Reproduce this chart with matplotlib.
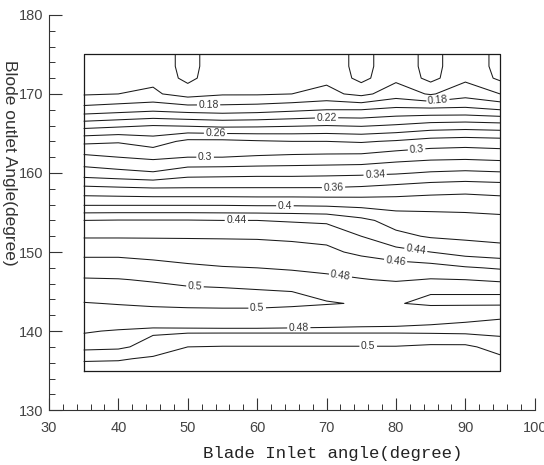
import numpy as np
import matplotlib
matplotlib.use("Agg")
import matplotlib.pyplot as plt
from matplotlib.ticker import MultipleLocator

# Blade inlet angle (x) and blade outlet angle (y) grid, degrees
INLET = [35, 40, 45, 50, 55, 60, 65, 70, 75, 80, 85, 90, 95]
OUTLET = [135, 136.5, 138, 140, 142, 143.5, 145, 146.5, 148, 150, 152, 154,
          156, 158, 160, 162, 164, 166, 168, 170, 172, 173.5, 175]

# Efficiency values (rows follow OUTLET, columns follow INLET)
EFF = [
    [0.510, 0.510, 0.512, 0.512, 0.512, 0.512, 0.512, 0.512, 0.512, 0.512, 0.512, 0.512, 0.512],  # 135
    [0.497, 0.498, 0.503, 0.508, 0.508, 0.508, 0.508, 0.508, 0.508, 0.508, 0.510, 0.510, 0.504],  # 136.5
    [0.474, 0.476, 0.488, 0.500, 0.501, 0.501, 0.501, 0.501, 0.501, 0.501, 0.504, 0.504, 0.492],  # 138
    [0.481, 0.479, 0.477, 0.477, 0.477, 0.477, 0.477, 0.477, 0.477, 0.477, 0.476, 0.475, 0.474],  # 140
    [0.490, 0.491, 0.492, 0.493, 0.494, 0.494, 0.492, 0.490, 0.488, 0.487, 0.486, 0.484, 0.482],  # 142
    [0.499, 0.501, 0.503, 0.504, 0.504, 0.504, 0.503, 0.501, 0.499, 0.499, 0.503, 0.503, 0.503],  # 143.5
    [0.510, 0.510, 0.508, 0.505, 0.504, 0.502, 0.500, 0.496, 0.492, 0.492, 0.499, 0.499, 0.499],  # 145
    [0.502, 0.501, 0.498, 0.494, 0.492, 0.490, 0.488, 0.485, 0.481, 0.478, 0.481, 0.480, 0.476],  # 146.5
    [0.488, 0.488, 0.486, 0.483, 0.481, 0.480, 0.478, 0.475, 0.472, 0.470, 0.468, 0.462, 0.458],  # 148
    [0.476, 0.476, 0.474, 0.472, 0.470, 0.468, 0.466, 0.464, 0.456, 0.447, 0.440, 0.432, 0.428],  # 150
    [0.458, 0.458, 0.458, 0.458, 0.458, 0.458, 0.457, 0.455, 0.440, 0.425, 0.418, 0.416, 0.414],  # 152
    [0.440, 0.441, 0.441, 0.441, 0.440, 0.440, 0.438, 0.436, 0.425, 0.412, 0.410, 0.408, 0.406],  # 154
    [0.398, 0.398, 0.398, 0.398, 0.398, 0.397, 0.397, 0.396, 0.394, 0.392, 0.392, 0.392, 0.390],  # 156
    [0.366, 0.364, 0.362, 0.362, 0.362, 0.362, 0.362, 0.362, 0.364, 0.368, 0.372, 0.374, 0.372],  # 158
    [0.330, 0.326, 0.322, 0.332, 0.333, 0.334, 0.334, 0.335, 0.336, 0.338, 0.342, 0.344, 0.342],  # 160
    [0.305, 0.300, 0.296, 0.300, 0.300, 0.302, 0.304, 0.305, 0.306, 0.312, 0.315, 0.316, 0.314],  # 162
    [0.275, 0.278, 0.270, 0.285, 0.285, 0.282, 0.280, 0.280, 0.278, 0.282, 0.288, 0.290, 0.288],  # 164
    [0.232, 0.236, 0.240, 0.238, 0.235, 0.236, 0.238, 0.240, 0.238, 0.242, 0.248, 0.250, 0.248],  # 166
    [0.188, 0.192, 0.196, 0.192, 0.190, 0.192, 0.196, 0.200, 0.200, 0.205, 0.205, 0.205, 0.200],  # 168
    [0.158, 0.160, 0.163, 0.152, 0.158, 0.158, 0.160, 0.165, 0.155, 0.170, 0.158, 0.172, 0.160],  # 170
    [0.155, 0.155, 0.156, 0.134, 0.156, 0.156, 0.157, 0.156, 0.134, 0.156, 0.134, 0.156, 0.136],  # 172
    [0.156, 0.156, 0.156, 0.131, 0.157, 0.157, 0.157, 0.156, 0.131, 0.156, 0.131, 0.157, 0.132],  # 173.5
    [0.156, 0.156, 0.156, 0.131, 0.157, 0.157, 0.157, 0.156, 0.131, 0.156, 0.131, 0.157, 0.132],  # 175
]

LEVELS = [0.14, 0.16, 0.18, 0.20, 0.22, 0.24, 0.26, 0.28, 0.30, 0.32,
          0.34, 0.36, 0.38, 0.40, 0.42, 0.44, 0.46, 0.48, 0.50]

# Where the contour labels sit on the reference (inlet, outlet)
LABEL_AT = [(53, 168.7), (86, 169.5), (70, 167), (54, 165), (52.5, 162),
            (83, 162.7), (77, 159.7), (71, 158.2), (64, 155.8), (57, 154),
            (83, 151), (80, 149.2), (72, 147), (51, 145), (60, 142.7),
            (66, 140.5), (76, 137.8)]

X_TICKS = [30, 40, 50, 60, 70, 80, 90, 100]
Y_TICKS = [130, 140, 150, 160, 170, 180]

narrow = ["Liberation Sans Narrow", "Liberation Sans", "DejaVu Sans"]
mono = ["Liberation Mono", "DejaVu Sans Mono"]

fig = plt.figure(figsize=(5.44, 4.65), dpi=100)
ax = fig.add_axes([0.090, 0.118, 0.893, 0.850])

x = np.array(INLET, dtype=float)
y = np.array(OUTLET, dtype=float)
z = np.array(EFF, dtype=float)

cs = ax.contour(x, y, z, levels=LEVELS, colors="#1a1a1a", linewidths=0.75)
labels = ax.clabel(cs, manual=LABEL_AT, inline=True, inline_spacing=2,
                   fontsize=7.5, fmt=lambda v: f"{v:g}", colors="#333333")
for t in labels:
    t.set_family(narrow)

# boundary of the computed domain
ax.plot([x[0], x[-1], x[-1], x[0], x[0]], [y[0], y[0], y[-1], y[-1], y[0]],
        color="#1a1a1a", lw=0.9)

ax.set_xlim(30, 100)
ax.set_ylim(130, 180)
ax.set_xticks(X_TICKS)
ax.set_yticks(Y_TICKS)
ax.xaxis.set_minor_locator(MultipleLocator(2))
ax.yaxis.set_minor_locator(MultipleLocator(2))
ax.tick_params(which="major", direction="in", length=9, width=0.8, color="#333333",
               labelsize=10.5, labelcolor="#444444")
ax.tick_params(axis="x", which="major", pad=8)
ax.tick_params(axis="y", which="major", pad=4)
ax.tick_params(which="minor", direction="in", length=4, width=0.7, color="#333333")
for lab in ax.get_xticklabels() + ax.get_yticklabels():
    lab.set_family(narrow)

for side in ("top", "right"):
    ax.spines[side].set_visible(False)
for side in ("left", "bottom"):
    ax.spines[side].set_color("#333333")
    ax.spines[side].set_linewidth(0.8)

ax.set_xlabel("Blade Inlet angle(degree)", family=mono, fontsize=12.5, color="#222222")
ax.xaxis.set_label_coords(0.584, -0.092)
ax.set_ylabel("Blode outlet Angle(degree)", family=narrow, fontsize=12.5, color="#333333",
              rotation=270, va="center", ha="center")
ax.yaxis.set_label_coords(-0.082, 0.625)

fig.savefig("out.png", dpi=100)
